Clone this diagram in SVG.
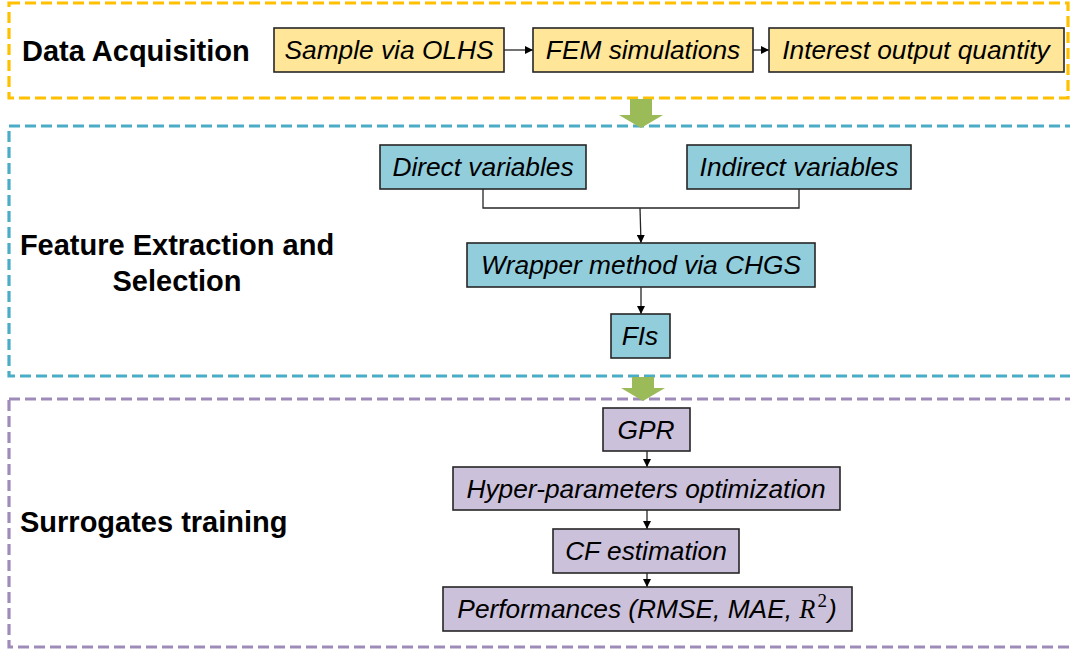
<svg xmlns="http://www.w3.org/2000/svg" width="1070" height="652" viewBox="0 0 1070 652">
  <style>
    .stage { fill: none; stroke-width: 3.2; stroke-dasharray: 11 5; }
    .title { font-family: "Liberation Sans", Arial, sans-serif; font-weight: bold; font-size: 29px; fill: #000; }
    .box { stroke: #262626; stroke-width: 1.6; }
    .lbl { font-family: "Liberation Sans", Arial, sans-serif; font-style: italic; font-size: 26.3px; fill: #000; text-anchor: middle; }
    .yel { fill: #FFE699; }
    .tea { fill: #92CDDC; }
    .pur { fill: #CCC1DA; }
    .link { fill: none; stroke: #262626; stroke-width: 1.3; }
    .flow { fill: #9BBB59; }
    .math { font-family: "Liberation Serif", "DejaVu Serif", serif; }
  </style>
  <defs>
    <marker id="arr" viewBox="0 0 10 10" refX="10" refY="5" markerWidth="8" markerHeight="8" markerUnits="userSpaceOnUse" orient="auto">
      <path d="M0,0 L10,5 L0,10 z" fill="#000"/>
    </marker>
  </defs>

  <rect width="1070" height="652" fill="#fff"/>

  <!-- stage frames -->
  <g id="stages">
    <rect class="stage" x="9" y="3" width="1059" height="95" stroke="#FFC000"/>
    <rect class="stage" x="9" y="126" width="1070" height="250" stroke="#4BACC6"/>
    <rect class="stage" x="9" y="399" width="1070" height="248" stroke="#9F8BB9"/>
  </g>

  <!-- stage titles -->
  <g id="titles">
    <text class="title" x="22" y="61">Data Acquisition</text>
    <text class="title" x="177" y="255" text-anchor="middle">Feature Extraction and</text>
    <text class="title" x="177" y="291" text-anchor="middle">Selection</text>
    <text class="title" x="20" y="532">Surrogates training</text>
  </g>

  <!-- block arrows between stages -->
  <g id="stage-flow">
    <path class="flow" d="M630,99 H652 V115 H663 L641,128 L619,115 H630 Z"/>
    <path class="flow" d="M632,377 H654 V388 H665 L643,401 L621,388 H632 Z"/>
  </g>

  <!-- connectors -->
  <g id="connectors">
    <line class="link" x1="504" y1="50" x2="533" y2="50" marker-end="url(#arr)"/>
    <line class="link" x1="753" y1="50" x2="769" y2="50" marker-end="url(#arr)"/>
    <path class="link" d="M483,189 V208 H799 V189"/>
    <line class="link" x1="640" y1="208" x2="641" y2="243" marker-end="url(#arr)"/>
    <line class="link" x1="641" y1="287" x2="641" y2="314" marker-end="url(#arr)"/>
    <line class="link" x1="647" y1="451" x2="647" y2="467" marker-end="url(#arr)"/>
    <line class="link" x1="647" y1="510" x2="647" y2="529" marker-end="url(#arr)"/>
    <line class="link" x1="647" y1="573" x2="647" y2="587" marker-end="url(#arr)"/>
  </g>

  <!-- data acquisition -->
  <g id="n-olhs">
    <rect class="box yel" x="274" y="28" width="230" height="44"/>
    <text class="lbl" x="389" y="59">Sample via OLHS</text>
  </g>
  <g id="n-fem">
    <rect class="box yel" x="533" y="28" width="220" height="44"/>
    <text class="lbl" x="643" y="59">FEM simulations</text>
  </g>
  <g id="n-output">
    <rect class="box yel" x="769" y="28" width="295" height="44"/>
    <text class="lbl" x="916" y="59">Interest output quantity</text>
  </g>

  <!-- feature extraction and selection -->
  <g id="n-direct">
    <rect class="box tea" x="380" y="145" width="206" height="44"/>
    <text class="lbl" x="483" y="176">Direct variables</text>
  </g>
  <g id="n-indirect">
    <rect class="box tea" x="687" y="145" width="224" height="44"/>
    <text class="lbl" x="799" y="176">Indirect variables</text>
  </g>
  <g id="n-wrapper">
    <rect class="box tea" x="467" y="243" width="348" height="44"/>
    <text class="lbl" x="641" y="274">Wrapper method via CHGS</text>
  </g>
  <g id="n-fis">
    <rect class="box tea" x="611" y="314" width="59" height="44"/>
    <text class="lbl" x="640" y="345">FIs</text>
  </g>

  <!-- surrogates training -->
  <g id="n-gpr">
    <rect class="box pur" x="603" y="408" width="87" height="43"/>
    <text class="lbl" x="646" y="439">GPR</text>
  </g>
  <g id="n-hyper">
    <rect class="box pur" x="453" y="467" width="387" height="43"/>
    <text class="lbl" x="646" y="498">Hyper-parameters optimization</text>
  </g>
  <g id="n-cf">
    <rect class="box pur" x="553" y="529" width="186" height="44"/>
    <text class="lbl" x="646" y="560">CF estimation</text>
  </g>
  <g id="n-perf">
    <rect class="box pur" x="443" y="587" width="409" height="44"/>
    <text class="lbl" x="647" y="618">Performances (RMSE, MAE, <tspan class="math">R</tspan><tspan class="math" font-style="normal" font-size="19" dx="2" dy="-11">2</tspan><tspan dx="1" dy="11">)</tspan></text>
  </g>
</svg>
